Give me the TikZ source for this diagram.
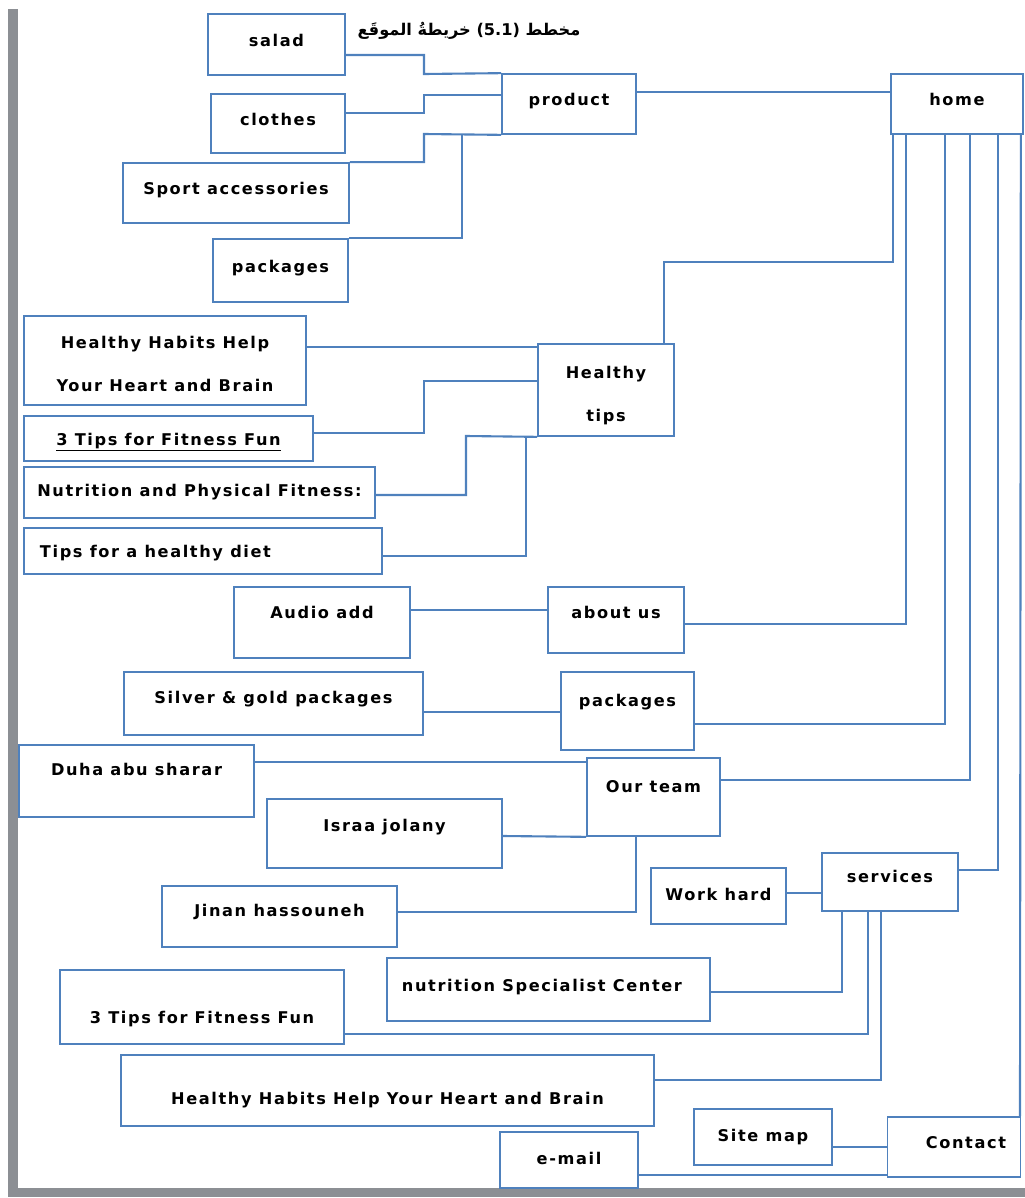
\documentclass[tikz,border=0pt]{standalone}
\usepackage{fontspec}
\newfontfamily\boxfont[LetterSpace=10]{DejaVu Sans}
\newfontfamily\arabicfont[Script=Arabic]{DejaVu Sans}
\TeXXeTstate=1
\definecolor{boxblue}{RGB}{79,129,189}
\definecolor{pagegray}{RGB}{140,143,148}

\begin{document}
\begin{tikzpicture}[x=0.025cm, y=-0.025cm,
    frame/.style={draw=boxblue, line width=1.2pt, inner sep=0pt, fill=white,
      font=\boxfont\bfseries\fontsize{11.5}{13.5}\selectfont},
    box/.style={frame, text height=11.5pt, text depth=9pt},
    wh/.style 2 args={minimum width=#1*0.025cm, minimum height=#2*0.025cm},
    wire/.style={draw=boxblue, line width=1.5pt}]
    \useasboundingbox (0,0) rectangle (1025,1198);

    % page edge
    \fill [pagegray] (8,9) rectangle (18,1197);
    \fill [pagegray] (8,1188) rectangle (1025,1197);

    \node [font=\arabicfont\bfseries\fontsize{11.5}{14}\selectfont] (title) at (469,31)
        {\beginR مخطط \beginL(5.1)\endL{} خريطةُ الموقَع\endR};

    % product
    \node [box, wh={137}{61}] (salad) at (276.5,44.5) {salad};
    \node [box, wh={134}{59}] (clothes) at (278,123.5) {clothes};
    \node [box, wh={226}{60}] (sport) at (236,193) {Sport accessories};
    \node [box, wh={135}{63}] (packA) at (280.5,270.5) {packages};
    \node [box, wh={134}{60}] (product) at (569,104) {product};
    \node [box, wh={132}{60}] (home) at (957,104) {home};

    % healthy tips
    \node [frame, wh={282}{89}, align=center] (habitsA) at (165,360.5)
        {\rule{0pt}{14pt}Healthy Habits Help\\[17pt]Your Heart and Brain};
    \node [frame, wh={136}{92}, align=center] (tips) at (606,390)
        {\rule{0pt}{17pt}Healthy\\[17pt]tips};
    \node [box, wh={289}{45}, text depth=2pt] (funA) at (168.5,438.5)
        {\underline{3 Tips for Fitness Fun}};
    \node [box, wh={351}{51}, text depth=5.5pt] (nutri) at (199.5,492.5)
        {Nutrition and Physical Fitness:};
    \node [box, wh={358}{46}, text depth=2pt] (diet) at (203,551)
        {\makebox[8.15cm][l]{Tips for a healthy diet}};

    % about us, packages, team
    \node [box, wh={176}{71}, text depth=17pt] (audio) at (322,622.5) {Audio add};
    \node [box, wh={136}{66}, text depth=13.4pt] (about) at (616,620) {about us};
    \node [box, wh={299}{63}, text depth=11.2pt] (silver) at (273.5,703.5) {Silver \& gold packages};
    \node [box, wh={133}{78}, text depth=17.6pt] (packB) at (627.5,711) {packages};
    \node [box, wh={235}{72}, text depth=19pt] (duha) at (136.5,781) {Duha abu sharar};
    \node [box, wh={133}{78}, text depth=17.6pt] (team) at (653.5,797) {Our team};
    \node [box, wh={235}{69}, text depth=14pt] (israa) at (384.5,833.5) {Israa jolany};
    \node [box, wh={235}{61}, text depth=11.2pt] (jinan) at (279.5,916.5) {Jinan hassouneh};

    % services, contact
    \node [box, wh={135}{56}, text depth=4.8pt] (work) at (718.5,896) {Work hard};
    \node [box, wh={136}{58}, text depth=10.5pt] (services) at (890,882) {services};
    \node [box, wh={323}{63}] (center) at (548.5,989.5)
        {\makebox[7.325cm][l]{nutrition Specialist Center}};
    \node [box, wh={284}{74}, text height=25.7pt, text depth=2pt] (funB) at (202,1007)
        {3 Tips for Fitness Fun};
    \node [box, wh={533}{71}, text height=22.2pt, text depth=2pt] (habitsB) at (387.5,1090.5)
        {Healthy Habits Help Your Heart and Brain};
    \node [box, wh={138}{56}, text depth=4.8pt] (sitemap) at (763,1137) {Site map};
    \node [box, wh={133}{60}] (contact) at (954,1147) {\makebox[2.6cm][r]{Contact}};
    \node [box, wh={138}{56}, text depth=4.8pt] (email) at (569,1160) {e-mail};

    \draw [wire] (product.east |- 0,92) -- (home.west |- 0,92);
    \draw [wire] (salad.east |- 0,55) -| (424,74) -- (product.north west);
    \draw [wire] (clothes.east |- 0,113) -| (424,95) -- (product.west |- 0,95);
    \draw [wire] (sport.north east) -| (424,134) -- (product.south west);
    \draw [wire] (packA.north east) -| (462,134);

    \draw [wire] (home.south west) ++(3,0) |- (664,262) -- (tips.north -| 664,0);
    \draw [wire] (habitsA.east |- 0,347) -- (tips.west |- 0,347);
    \draw [wire] (funA.east |- 0,433) -| (424,381) -- (tips.west |- 0,381);
    \draw [wire] (nutri.east |- 0,495) -| (466,436) -- (tips.south west);
    \draw [wire] (diet.east |- 0,556) -| (526,436);

    \draw [wire] (home.south west) ++(16,0) |- (about.east |- 0,624);
    \draw [wire] (audio.east |- 0,610) -- (about.west |- 0,610);
    \draw [wire] (home.south) ++(-12,0) |- (packB.east |- 0,724);
    \draw [wire] (silver.east |- 0,712) -- (packB.west |- 0,712);
    \draw [wire] (home.south) ++(13,0) |- (team.east |- 0,780);
    \draw [wire] (duha.east |- 0,762) -- (team.west |- 0,762);
    \draw [wire] (israa.east |- 0,836) -- (team.south west);
    \draw [wire] (jinan.east |- 0,912) -| (team.south -| 636,0);

    \draw [wire] (home.south east) ++(-26,0) |- (services.east |- 0,870);
    \draw [wire] (work.east |- 0,893) -- (services.west |- 0,893);
    \draw [wire] (center.east |- 0,992) -| (services.south -| 842,0);
    \draw [wire] (funB.east |- 0,1034) -| (services.south -| 868,0);
    \draw [wire] (habitsB.east |- 0,1080) -| (services.south -| 881,0);
    \draw [wire] (home.south east) ++(-3,0) -- (contact.north -| 1020,0);
    \draw [wire] (sitemap.east |- 0,1147) -- (contact.west |- 0,1147);
    \draw [wire] (email.east |- 0,1175) -- (contact.west |- 0,1175);
\end{tikzpicture}
\end{document}
